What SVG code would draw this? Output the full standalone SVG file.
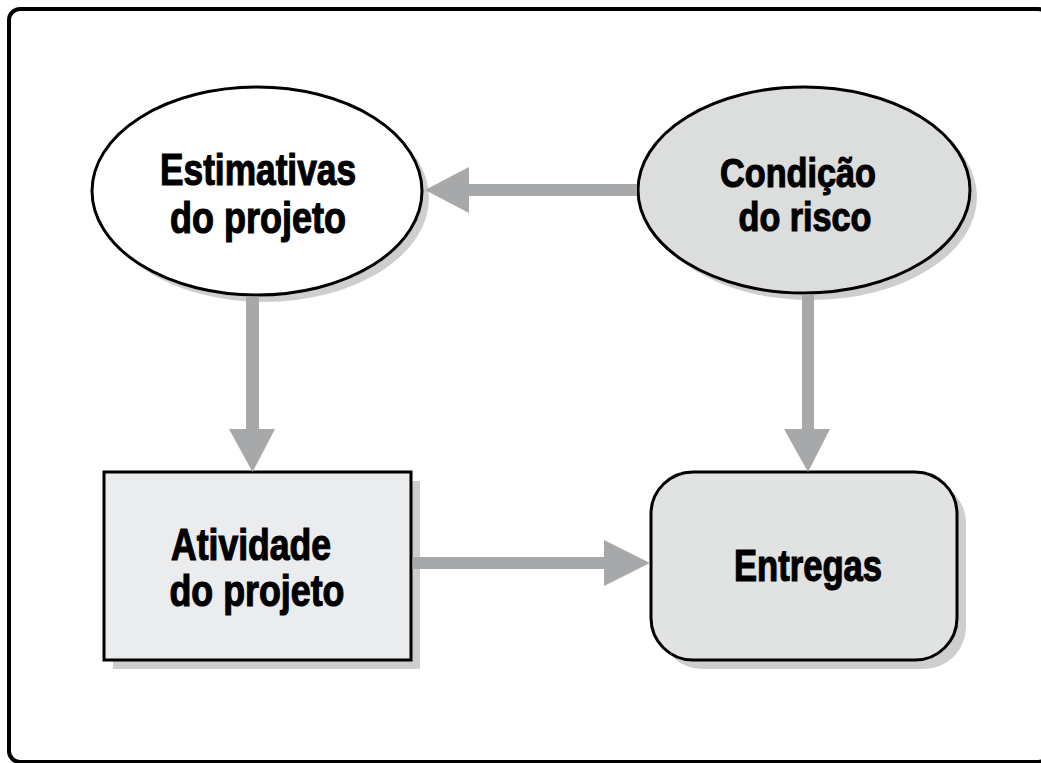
<svg xmlns="http://www.w3.org/2000/svg" width="1041" height="763" viewBox="0 0 1041 763">
<style>
.lbl{font-family:"Liberation Sans",Arial,sans-serif;font-weight:bold;font-size:44px;fill:#000;stroke:#000;stroke-width:1.2;text-anchor:middle}
.sm{font-size:41px}
.node{stroke:#000;stroke-width:3}
.shadow{fill:#cdcecf}
.arrow{fill:#a7a8a9}
</style>
<rect x="0" y="0" width="1041" height="763" fill="#fff"/>
<rect x="9" y="9" width="1040" height="753" rx="11" fill="#fff" stroke="#000" stroke-width="4"/>
<g id="estimativas">
<ellipse class="shadow" cx="264" cy="198" rx="165" ry="104"/>
<ellipse class="node" cx="257" cy="191" rx="165" ry="104" fill="#fff"/>
<text class="lbl" x="258" y="185" textLength="196" lengthAdjust="spacingAndGlyphs">Estimativas</text>
<text class="lbl" x="258" y="233" textLength="176" lengthAdjust="spacingAndGlyphs">do projeto</text>
</g>
<g id="condicao">
<ellipse class="shadow" cx="811" cy="197" rx="166" ry="103"/>
<ellipse class="node" cx="804" cy="190" rx="166" ry="103" fill="#dcdddd"/>
<text class="lbl sm" x="798" y="187" textLength="156" lengthAdjust="spacingAndGlyphs">Condição</text>
<text class="lbl sm" x="805" y="231" textLength="133" lengthAdjust="spacingAndGlyphs">do risco</text>
</g>
<g id="atividade">
<rect class="shadow" x="113" y="481" width="307" height="188"/>
<rect class="node" x="104" y="472" width="307" height="188" fill="#ebeced"/>
<text class="lbl" x="251" y="560" textLength="160" lengthAdjust="spacingAndGlyphs">Atividade</text>
<text class="lbl" x="257" y="606" textLength="175" lengthAdjust="spacingAndGlyphs">do projeto</text>
</g>
<g id="entregas">
<rect class="shadow" x="660" y="481" width="306" height="188" rx="42"/>
<rect class="node" x="651" y="472" width="306" height="188" rx="42" fill="#e1e2e2"/>
<text class="lbl" x="808" y="581" textLength="148" lengthAdjust="spacingAndGlyphs">Entregas</text>
</g>
<g id="connectors">
<polygon class="arrow" points="637,184 469,184 469,167 425,190 469,213 469,196 637,196"/>
<polygon class="arrow" points="246,296.5 246,429 229,429 252.5,472 275,429 259,429 259,296.5"/>
<polygon class="arrow" points="802,294.5 802,429 784,429 808,472 830,429 814,429 814,294.5"/>
<polygon class="arrow" points="412.5,557 604,557 604,540 650,563 604,586 604,569 412.5,569"/>
</g>
</svg>
